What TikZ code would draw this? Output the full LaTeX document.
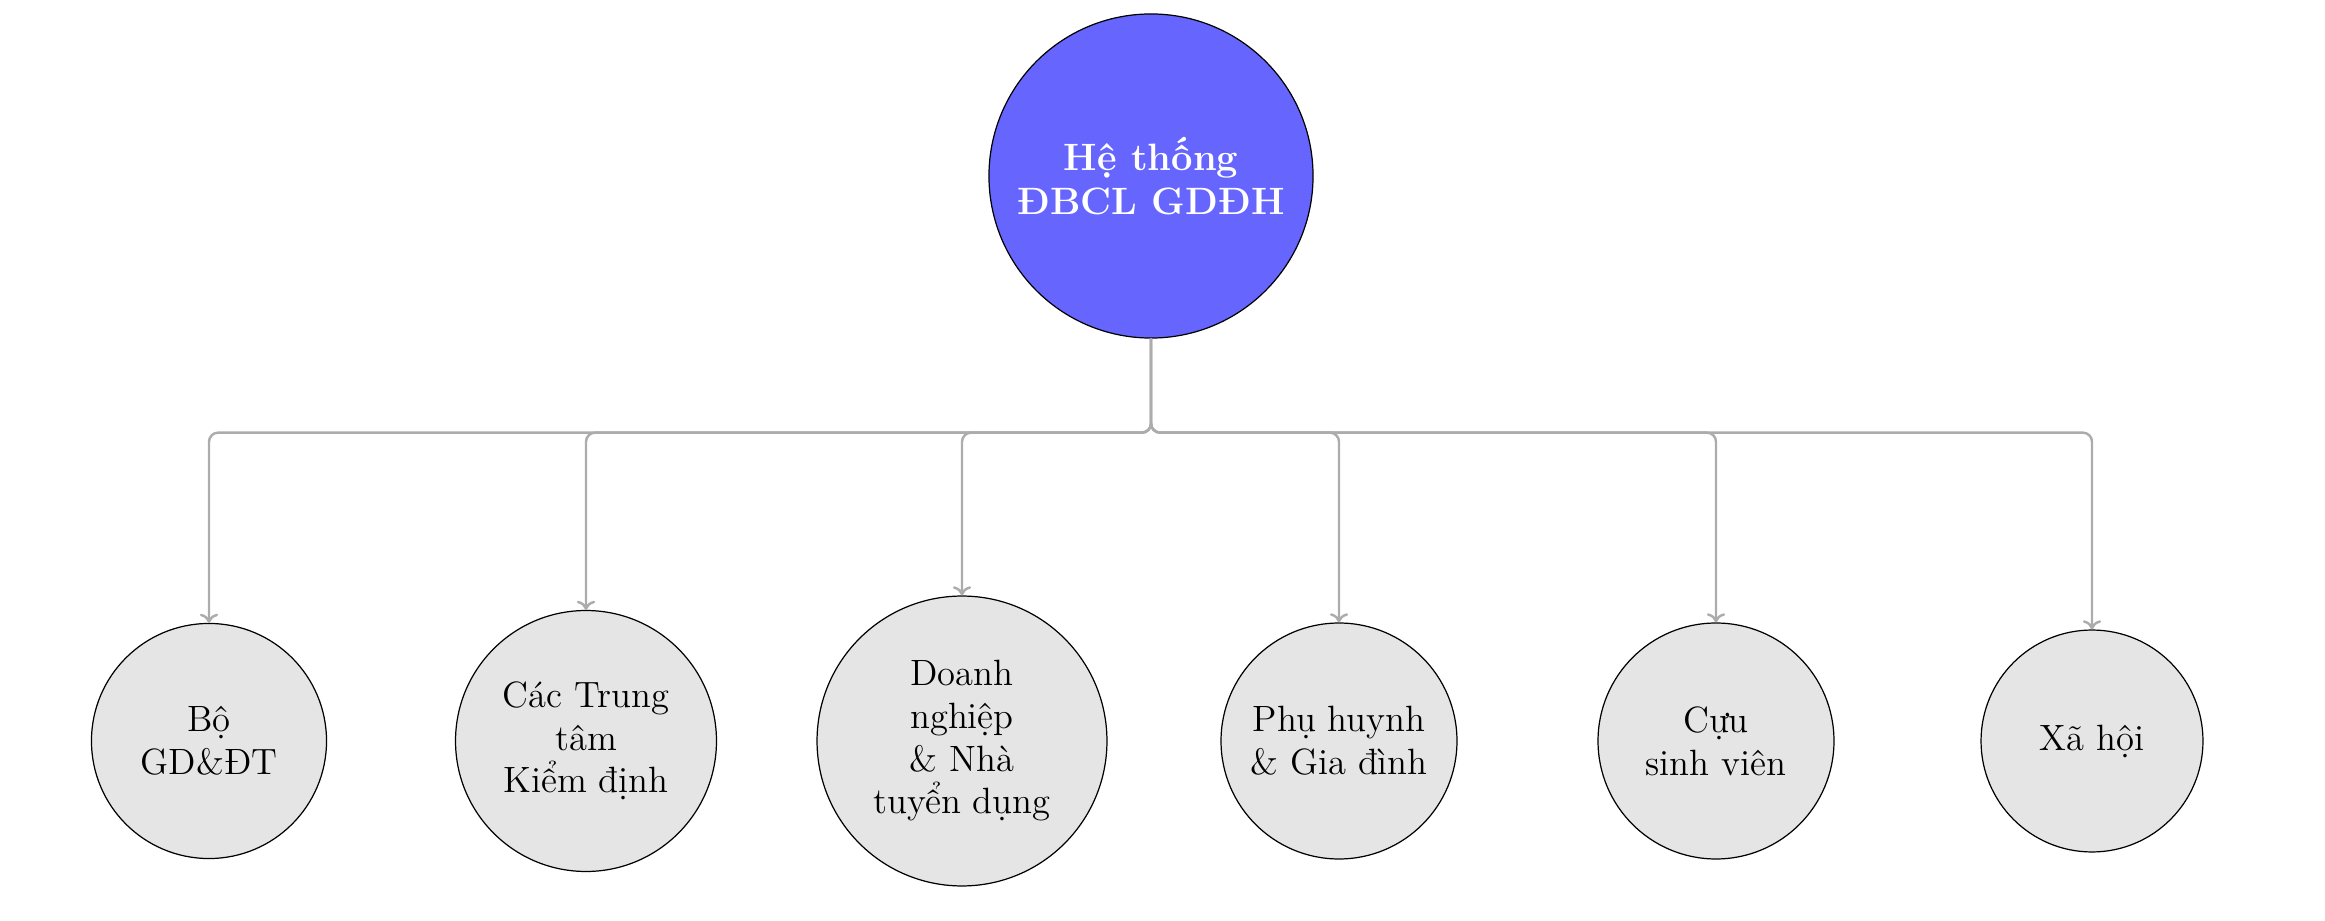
\documentclass[tikz,border=0pt]{standalone}
\usepackage{fontspec}
\usetikzlibrary{arrows.meta}
\begin{document}
\begin{tikzpicture}[x=0.328pt,y=-0.328pt,
  root/.style={circle,draw=black,fill=blue!60,text=white,font=\fontsize{12.5}{14.5}\selectfont\bfseries,align=center,inner sep=0pt,minimum size=#1},
  leaf/.style={circle,draw=black,fill=gray!20,text=black,font=\large,align=center,inner sep=0pt,minimum size=#1},
  link/.style={draw=gray!65,thick,rounded corners=3pt,-{To[length=3pt,width=6pt]}}]
\useasboundingbox (0,0) rectangle (2325,921);
\node[root=106.3pt] (r) at (1151,176) {Hệ thống\\ĐBCL GDĐH};
\node[leaf=77.1pt] (a) at (209,741) {Bộ\\GD\&ĐT};
\node[leaf=85.6pt] (b) at (586,741) {Các Trung\\tâm\\Kiểm định};
\node[leaf=95.1pt] (c) at (962,741) {Doanh\\nghiệp\\\& Nhà\\tuyển dụng};
\node[leaf=77.4pt] (d) at (1339,741) {Phụ huynh\\\& Gia đình};
\node[leaf=77.4pt] (e) at (1716,741) {Cựu\\sinh viên};
\node[leaf=72.8pt] (f) at (2092,741) {Xã hội};
\foreach \t in {a,b,c,d,e,f}
  \draw[link] (r.south) -- ++(0,94) -| (\t.north);
\end{tikzpicture}
\end{document}
